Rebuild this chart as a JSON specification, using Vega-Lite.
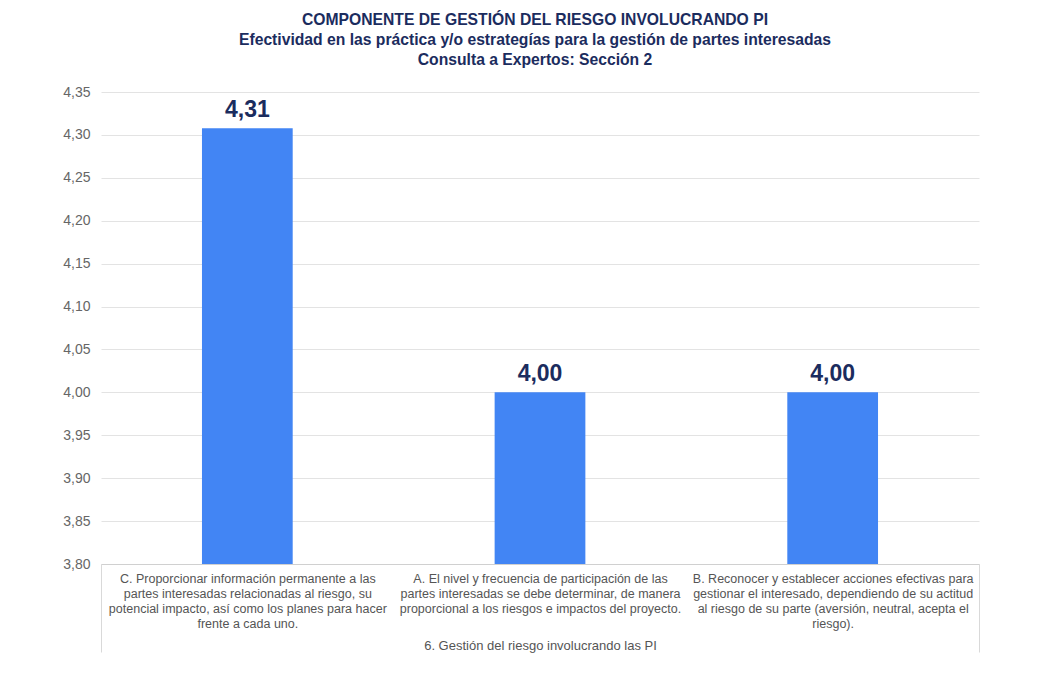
{
  "$schema": "https://vega.github.io/schema/vega-lite/v6.json",
  "autosize": "none",
  "width": 878,
  "height": 472,
  "padding": {"left": 101, "top": 92, "right": 77, "bottom": 124},
  "title": {
    "text": ["COMPONENTE DE GESTIÓN DEL RIESGO INVOLUCRANDO PI", "Efectividad en las práctica y/o estrategías para la gestión de partes interesadas", "Consulta a Expertos: Sección  2"],
    "font": "Liberation Sans",
    "fontSize": 15.7,
    "fontWeight": "bold",
    "color": "#1b2c5e",
    "lineHeight": 20,
    "frame": "group",
    "anchor": "middle",
    "dx": -5,
    "offset": 16
  },
  "data": {
    "values": [
      {"item": "C. Proporcionar información permanente a las|partes interesadas relacionadas al riesgo, su|potencial impacto, así como los planes para hacer|frente a cada uno.", "valor": 4.3077},
      {"item": "A. El nivel y frecuencia de participación de las|partes interesadas se debe determinar, de manera|proporcional a los riesgos e impactos del proyecto.", "valor": 4.0},
      {"item": "B. Reconocer y establecer acciones efectivas para|gestionar el interesado, dependiendo de su actitud|al riesgo de su parte (aversión, neutral, acepta el|riesgo).", "valor": 4.0}
    ]
  },
  "encoding": {
    "x": {
      "field": "item",
      "type": "nominal",
      "sort": null,
      "scale": {"paddingInner": 0, "paddingOuter": 0},
      "axis": {
        "title": "6. Gestión del riesgo involucrando las PI",
        "titleFont": "Liberation Sans",
        "titleFontSize": 13,
        "titleFontWeight": "normal",
        "titleColor": "#555555",
        "titleY": 81,
        "titleBaseline": "middle",
        "labelExpr": "split(datum.label, '|')",
        "labelAngle": 0,
        "labelFont": "Liberation Sans",
        "labelFontSize": 12.5,
        "labelColor": "#555555",
        "labelLineHeight": 15,
        "labelLimit": 0,
        "labelPadding": -80,
        "labelBaseline": "top",
        "tickBand": "extent",
        "tickSize": 88,
        "tickColor": {"condition": {"test": "datum.extra != null || datum.index < 0 || datum.index > 0.99", "value": "#d9d9d9"}, "value": "transparent"},
        "domainColor": "#d0d0d0",
        "grid": false
      }
    },
    "y": {
      "field": "valor",
      "type": "quantitative",
      "scale": {"domain": [3.8, 4.35], "nice": false, "zero": false},
      "axis": {
        "title": null,
        "values": [3.8, 3.85, 3.9, 3.95, 4.0, 4.05, 4.1, 4.15, 4.2, 4.25, 4.3, 4.35],
        "format": ".2f",
        "labelFont": "Liberation Sans",
        "labelFontSize": 14,
        "labelColor": "#666666",
        "labelPadding": 11,
        "domain": false,
        "ticks": false,
        "gridColor": "#e3e3e3"
      }
    }
  },
  "layer": [
    {"mark": {"type": "bar", "color": "#4285f4", "clip": true, "width": {"band": 0.31}}},
    {
      "mark": {"type": "text", "baseline": "bottom", "dy": -6, "font": "Liberation Sans", "fontSize": 23, "fontWeight": "bold", "color": "#1b2c5e"},
      "encoding": {"text": {"field": "valor", "type": "quantitative", "format": ".2f"}}
    }
  ],
  "config": {
    "locale": {"number": {"decimal": ",", "thousands": ".", "grouping": [3], "currency": ["", " €"]}},
    "view": {"stroke": null},
    "background": "white"
  }
}
